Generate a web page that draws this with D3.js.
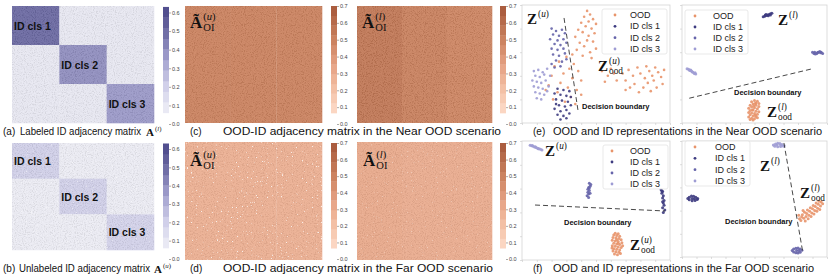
<!DOCTYPE html>
<html>
<head>
<meta charset="utf-8">
<script src="https://cdn.jsdelivr.net/npm/d3@7"></script>
<style>
  body { margin: 0; background: #fff; }
  text { font-family: "Liberation Sans", Arial, sans-serif; }
</style>
</head>
<body>
<svg id="fig" width="830" height="277"></svg>
<script>
// ---- data ----
const clsNames = ['ID cls 1', 'ID cls 2', 'ID cls 3'];
const legendNames = ['OOD', 'ID cls 1', 'ID cls 2', 'ID cls 3'];

// block means of the ID adjacency matrices (rows/cols = class blocks)
const adjLabeled = [[0.50, 0.09, 0.09], [0.09, 0.40, 0.09], [0.09, 0.09, 0.37]];
const adjUnlabeled = [[0.20, 0.07, 0.07], [0.07, 0.20, 0.07], [0.07, 0.07, 0.19]];

// OOD-ID matrices, mean value per ID-class column band
const oodNearU = [0.50, 0.50, 0.50];
const oodNearL = [0.55, 0.51, 0.49];
const oodFarU = [0.28, 0.28, 0.28];
const oodFarL = [0.31, 0.30, 0.30];

const purpleTicks = [0, 0.1, 0.2, 0.3, 0.4, 0.5, 0.6];
const orangeTicks = [0, 0.1, 0.2, 0.3, 0.4, 0.5, 0.6, 0.7];
const purpleExtent = [0.06, 0.63];
const orangeExtent = [0.065, 0.70];

// (e) near OOD, unlabeled representations
const nearU_ood = [[44,95],[46,92],[42,90],[48,88],[45,86],[40,85],[50,84],[43,82],[47,80],[38,79],[41,77],[49,76],[45,74],[36,73],[44,70],[48,69],[39,68],[42,65],[50,63],[37,62],[46,60],[34,58],[41,57],[47,55],
  [30,56],[25,52],[35,50],[22,48],[32,46],[38,44],[28,42],[20,40],[34,38],[40,36],[26,34],[31,30],[37,28],[18,32],[24,26],[33,22],[29,18],[36,16],[21,20],[40,24],[16,28],
  [54,44],[58,40],[62,42],[56,35],[64,36],[60,46],
  [68,42],[72,45],[75,40],[70,36],[78,47],[80,42],[83,38],[76,33],[86,44],[88,40],[90,47],[92,43],[85,34],[82,30],[89,36],[94,39],[96,45],[91,30],[87,27],[79,26],[73,30],[84,48],[95,33],[70,28]];
const nearU_c2 = [[20,80],[23,78],[27,79],[21,75],[25,74],[29,76],[19,71],[24,70],[28,71],[22,67],[26,66],[30,68],[20,63],[24,62],[28,63],[21,58],[25,57],[29,59],[23,53],[27,52],[20,50],[30,54],[26,48],[22,47]];
const nearU_c3 = [[8,44],[11,45],[14,43],[17,46],[9,40],[12,39],[15,41],[19,40],[7,36],[10,35],[13,34],[16,36],[8,31],[11,30],[14,29],[18,31],[9,26],[12,25],[15,24],[10,21],[13,20],[17,27]];
const nearU_c1 = [[24,29],[28,28],[32,27],[22,25],[26,24],[30,23],[33,22],[23,20],[27,19],[31,18],[25,15],[29,14],[33,15],[22,12],[26,10],[30,11],[24,7],[28,6],[32,8],[26,3],[30,4],[23,16]];
const nearU_boundary = [[28.4, 89], [37.8, 11]];

// near OOD, labeled representations
const nearL_c1 = [[56,90],[57,90.5],[58,91],[59,91.5],[60,92],[61,92.5],[62,93],[57.5,91.5],[59.5,90.8],[61,91.5],[58,92]];
const nearL_c2 = [[90,60],[91,59],[92,58.5],[93,59],[94,60],[95,60.5],[96,60],[97,59],[91.5,60],[93.5,59.8],[95.5,59.5]];
const nearL_c3 = [[3.5,46],[4.5,45.5],[5.5,44.5],[6.5,44],[7.5,43],[8.5,42],[9.5,41.5],[5,45],[7,43.5],[9,42.5],[6,45]];
const nearL_ood = [[50,19],[52,18.5],[48,18],[51,17],[53,16.5],[49,16],[47,15],[51,15],[53,14],[48,13.5],[50,13],[46,12.5],[52,12],[49,11],[47,10.5],[51,10],[53,9.5],[46,9],[48,8.5],[50,8],[52,7.5],[47,7],[49,6],[51,5.5],[46,5],[48,4],[50,3.5],[52,4.5],[47,3],[49,2.5],[50.5,16.5],[49.5,14.5],[48.5,11],[50.5,6.5]];
const nearL_boundary = [[5, 21], [90, 46]];

// (f) far OOD, unlabeled representations
const farU_c3 = [[5.5,96.5],[6.5,96],[7.5,95.6],[8.5,95],[9.5,94.5],[10.5,94],[11.5,93.5],[12.5,93],[13.5,92.5],[7,96.2],[9,95.2],[11,93.4]];
const farU_c2 = [[45.5,64.5],[46.5,63.5],[46,62],[45,61],[44.5,59.5],[45.5,58.5],[44.5,57],[45,55.5],[44,54],[45,52.5],[45.5,60.5],[46,56]];
const farU_c1 = [[94,59],[95,57.5],[94.5,56],[95.5,54],[95,52],[96,50],[95.5,48],[96,46],[95,44],[96.5,42],[95.5,40],[94.5,58],[95,49]];
const farU_ood = [[63,22.5],[65,22],[62,21],[64,20.5],[66,20],[61.5,19],[63.5,18.5],[65.5,18],[67,17],[61,16.5],[63,16],[65,15.5],[67.5,14.5],[62,14],[64,13.5],[66,13],[61,12],[63,11.5],[65,11],[67,10.5],[62,9.5],[64,9],[66,8.5],[61.5,7.5],[63.5,7],[65.5,6.5],[62.5,5],[64.5,4.5],[66.5,5.5],[68,12],[60.8,10],[64,17],[65,14]];
const farU_boundary = [[8.8, 46.2], [96.6, 41.2]];

// far OOD, labeled representations
const farL_c3 = [[63,96.5],[64.5,97.5],[66,98],[67.5,97.8],[69,97],[70.5,96],[64,95.5],[66,95],[68,95.2],[70,95.5],[65.5,96.5],[68,96.5]];
const farL_c1 = [[4,50.5],[5,51.5],[6.5,52.5],[8,52.3],[9.5,51.5],[10.8,50.5],[5,49.3],[7,48.5],[9,48.8],[10.5,49.5],[7,50.5],[8.5,50.2]];
const farL_c2 = [[76,5.5],[77,6.8],[78.5,7.6],[80,7.7],[81.5,7],[82.7,5.8],[77,4.3],[78.5,3.6],[80,3.5],[81.5,4.2],[79,5.6],[80.5,5.6]];
const farL_ood = [[81,33],[82.5,34.5],[84,33.5],[85.5,35],[83,36.5],[86,37.5],[87.5,36],[84.5,38.5],[88,39.5],[89.5,38],[86.5,40.5],[90,41.5],[91.5,40],[88.5,42.5],[92,43.5],[93.5,42],[90.5,44.5],[94,45.5],[95.5,44],[92.5,46.5],[96,47.5],[82,31.5],[85,31],[87,33],[89,35],[91,37],[93,39.5],[95,41],[80.5,36],[83.5,40],[94.5,48],[97,46]];
const farL_boundary = [[70.3, 98.3], [83.4, 3.4]];

// ---- styles ----
const serif = '"Liberation Serif", "DejaVu Serif", Times, serif';
const colOOD = '#e8946a', colC1 = '#3d3b80', colC2 = '#6664aa', colC3 = '#9e9cd4';
const purple = d3.scaleLinear()
  .domain([0.06, 0.2, 0.35, 0.5, 0.63])
  .range(['#efeff6', '#d2d1ea', '#a3a1cf', '#6c6aa3', '#4b488a']).clamp(true);
const orange = d3.scaleLinear()
  .domain([0.07, 0.2, 0.35, 0.5, 0.7])
  .range(['#fcdac8', '#f4c2a7', '#e6a284', '#cc8360', '#a5573a']).clamp(true);

const svg = d3.select('#fig');
svg.append('rect').attr('width', 830).attr('height', 277).attr('fill', '#fff');

const defs = svg.append('defs');
const noise = defs.append('filter').attr('id', 'noise')
  .attr('x', 0).attr('y', 0).attr('width', '100%').attr('height', '100%');
noise.append('feTurbulence').attr('type', 'fractalNoise')
  .attr('baseFrequency', 0.9).attr('numOctaves', 2).attr('seed', 4);
noise.append('feColorMatrix').attr('type', 'matrix')
  .attr('values', '3 0 0 0 -1  3 0 0 0 -1  3 0 0 0 -1  0 0 0 0 1');

// sparse white speckles
const sparkle = defs.append('filter').attr('id', 'sparkle')
  .attr('x', 0).attr('y', 0).attr('width', '100%').attr('height', '100%');
sparkle.append('feTurbulence').attr('type', 'fractalNoise')
  .attr('baseFrequency', 0.8).attr('numOctaves', 1).attr('seed', 9);
sparkle.append('feColorMatrix').attr('type', 'matrix')
  .attr('values', '0 0 0 0 1  0 0 0 0 1  0 0 0 0 1  14 0 0 0 -9.6');

function texture(x, y, w, h, op, speck) {
  svg.append('rect').attr('x', x).attr('y', y).attr('width', w).attr('height', h)
    .attr('filter', 'url(#noise)').attr('opacity', op);
  if (speck) {
    svg.append('rect').attr('x', x).attr('y', y).attr('width', w).attr('height', h)
      .attr('filter', 'url(#sparkle)').attr('opacity', speck);
  }
}

function mathLabel(x, y, base, sup, sub, fs) {
  const g = svg.append('g').attr('fill', '#111');
  const b = g.append('text').attr('x', x).attr('y', y)
    .style('font-family', serif).attr('font-weight', 'bold').attr('font-size', fs).text(base);
  const w = b.node().getComputedTextLength();
  const s = fs * 0.62;
  if (sup) {
    const t = g.append('text').attr('x', x + w + 1).attr('y', y - fs * 0.48)
      .style('font-family', serif).attr('font-size', s);
    t.append('tspan').text('(');
    t.append('tspan').attr('font-style', 'italic').text(sup);
    t.append('tspan').text(')');
  }
  if (sub) {
    g.append('text').attr('x', x + w + 1).attr('y', y + fs * 0.2)
      .style('font-family', serif).attr('font-size', s).text(sub);
  }
}

function adjMatrix(x0, y0, w, h, mat, speck) {
  const bx = d3.scaleBand().domain(d3.range(mat.length)).range([x0, x0 + w]);
  const by = d3.scaleBand().domain(d3.range(mat.length)).range([y0, y0 + h]);
  mat.forEach((row, i) => row.forEach((v, j) => {
    svg.append('rect').attr('x', bx(j)).attr('y', by(i))
      .attr('width', bx.bandwidth() + 0.3).attr('height', by.bandwidth() + 0.3)
      .attr('fill', purple(v));
  }));
  texture(x0, y0, w, h, 0.07, speck);
  clsNames.forEach((n, i) => {
    svg.append('text').attr('x', bx(i) + 2).attr('y', by(i) + by.bandwidth() / 2 + 4)
      .attr('font-size', 10.5).attr('font-weight', 'bold').attr('fill', '#111').text(n);
  });
}

function oodMatrix(x0, y0, w, h, bands, op, speck) {
  const bx = d3.scaleBand().domain(d3.range(bands.length)).range([x0, x0 + w]);
  bands.forEach((v, j) => {
    svg.append('rect').attr('x', bx(j)).attr('y', y0)
      .attr('width', bx.bandwidth() + 0.3).attr('height', h).attr('fill', orange(v));
  });
  texture(x0, y0, w, h, op, speck);
}

function colorbar(x, yZero, yTop, cmap, ext, ticks, n) {
  const top = ticks[ticks.length - 1];
  const y = d3.scaleLinear().domain([0, top]).range([yZero, yTop]);
  const step = (ext[1] - ext[0]) / n;
  d3.range(n).forEach(i => {
    const lo = ext[0] + i * step;
    svg.append('rect').attr('x', x).attr('y', y(lo + step)).attr('width', 6)
      .attr('height', y(lo) - y(lo + step) + 0.3).attr('fill', cmap(lo + step / 2));
  });
  const ax = svg.append('g').attr('transform', `translate(${x + 6},0)`)
    .call(d3.axisRight(y).tickValues(ticks).tickSize(2).tickPadding(1).tickFormat(d3.format('.1f')));
  ax.select('.domain').remove();
  ax.selectAll('line').attr('stroke', '#555').attr('stroke-width', 0.5);
  ax.selectAll('text').attr('font-size', 5.5).attr('fill', '#444');
}

function scatter(p) {
  const x = d3.scaleLinear().domain([0, 100]).range([p.x0, p.x1]);
  const y = d3.scaleLinear().domain([0, 100]).range([p.y1, p.y0]);
  const g = svg.append('g');
  g.append('rect').attr('x', p.x0).attr('y', p.y0).attr('width', p.x1 - p.x0)
    .attr('height', p.y1 - p.y0).attr('fill', 'none').attr('stroke', '#d4d4d4').attr('stroke-width', 0.8);
  const ay = g.append('g').attr('transform', `translate(${p.x0},0)`)
    .call(d3.axisLeft(y).ticks(7).tickSize(2).tickFormat(''));
  const axb = g.append('g').attr('transform', `translate(0,${p.y1})`)
    .call(d3.axisBottom(x).ticks(8).tickSize(2).tickFormat(''));
  [ay, axb].forEach(a => {
    a.select('.domain').remove();
    a.selectAll('line').attr('stroke', '#c8c8c8').attr('stroke-width', 0.6);
  });
  const sets = [[p.ood, colOOD], [p.c1, colC1], [p.c2, colC2], [p.c3, colC3]];
  sets.forEach(([pts, c]) => {
    g.selectAll(null).data(pts).enter().append('circle')
      .attr('cx', d => x(d[0])).attr('cy', d => y(d[1]))
      .attr('r', p.r).attr('fill', c).attr('opacity', 0.9);
  });
  g.append('line')
    .attr('x1', x(p.boundary[0][0])).attr('y1', y(p.boundary[0][1]))
    .attr('x2', x(p.boundary[1][0])).attr('y2', y(p.boundary[1][1]))
    .attr('stroke', '#333').attr('stroke-width', 0.9).attr('stroke-dasharray', '5,3');
  g.append('text').attr('x', p.db[0]).attr('y', p.db[1]).attr('font-size', 7.5)
    .attr('font-weight', 'bold').attr('fill', '#111').text('Decision boundary');
  // legend
  const L = p.leg;
  g.append('rect').attr('x', L.x).attr('y', L.y).attr('width', L.w).attr('height', L.h)
    .attr('rx', 2).attr('fill', '#fff').attr('fill-opacity', 0.85)
    .attr('stroke', '#e0e0e0').attr('stroke-width', 0.7);
  const ly = d3.scalePoint().domain(legendNames).range([L.y + 6, L.y + L.h - 5]);
  const lc = [colOOD, colC1, colC2, colC3];
  legendNames.forEach((n, i) => {
    g.append('circle').attr('cx', L.mx).attr('cy', ly(n)).attr('r', 1.4).attr('fill', lc[i]);
    g.append('text').attr('x', L.tx).attr('y', ly(n) + 3).attr('font-size', 9)
      .attr('fill', '#222').text(n);
  });
  mathLabel(p.z[0], p.z[1], 'Z', p.sup, null, 15);
  mathLabel(p.zo[0], p.zo[1], 'Z', p.sup, 'ood', 15);
}

function caption(x, y, tag, text, tx, len) {
  svg.append('text').attr('x', x).attr('y', y).attr('font-size', 10).attr('fill', '#111').text(tag);
  svg.append('text').attr('x', tx).attr('y', y).attr('font-size', 10).attr('fill', '#111')
    .attr('textLength', len).attr('lengthAdjust', 'spacingAndGlyphs').text(text);
}

// ---- (a) / (b) ID adjacency matrices ----
adjMatrix(12, 6, 142, 117, adjLabeled, 0);
colorbar(163, 124, 12.5, purple, purpleExtent, purpleTicks, 10);
adjMatrix(12, 143, 142, 107, adjUnlabeled, 0.5);
colorbar(163, 259, 149, purple, purpleExtent, purpleTicks, 10);

// ---- (c) / (d) OOD-ID matrices ----
oodMatrix(185, 6, 137, 117, oodNearU, 0.07, 0);
colorbar(331, 124, 6, orange, orangeExtent, orangeTicks, 11);
oodMatrix(357, 6, 135, 117, oodNearL, 0.08, 0);
colorbar(500, 124, 6, orange, orangeExtent, orangeTicks, 11);
oodMatrix(185, 142, 137, 118, oodFarU, 0.06, 0.8);
colorbar(331, 259, 143, orange, orangeExtent, orangeTicks, 11);
oodMatrix(357, 142, 135, 118, oodFarL, 0.06, 0.35);
colorbar(500, 259, 143, orange, orangeExtent, orangeTicks, 11);

mathLabel(190, 28, 'Ã', 'u', 'OI', 17);
mathLabel(362, 28, 'Ã', 'l', 'OI', 17);
mathLabel(190, 166, 'Ã', 'u', 'OI', 17);
mathLabel(363, 166, 'Ã', 'l', 'OI', 17);

// ---- (e) / (f) representations ----
scatter({ x0: 522, x1: 670, y0: 5, y1: 123, r: 1.3, ood: nearU_ood, c1: nearU_c1, c2: nearU_c2, c3: nearU_c3,
  boundary: nearU_boundary, db: [582, 109], sup: 'u', z: [527, 24], zo: [598, 71],
  leg: { x: 602, y: 9, w: 65, h: 45, mx: 615, tx: 630 } });
scatter({ x0: 682, x1: 827, y0: 5, y1: 123, r: 1.5, ood: nearL_ood, c1: nearL_c1, c2: nearL_c2, c3: nearL_c3,
  boundary: nearL_boundary, db: [734, 95], sup: 'l', z: [778, 25], zo: [767, 117],
  leg: { x: 685, y: 10, w: 63, h: 44, mx: 695, tx: 713 } });
scatter({ x0: 522, x1: 670, y0: 141, y1: 260, r: 1.5, ood: farU_ood, c1: farU_c1, c2: farU_c2, c3: farU_c3,
  boundary: farU_boundary, db: [564, 225], sup: 'u', z: [545, 156], zo: [630, 250],
  leg: { x: 603, y: 145, w: 65, h: 44, mx: 612, tx: 630 } });
scatter({ x0: 682, x1: 827, y0: 141, y1: 257, r: 1.5, ood: farL_ood, c1: farL_c1, c2: farL_c2, c3: farL_c3,
  boundary: farL_boundary, db: [725, 224], sup: 'l', z: [760, 171], zo: [800, 198],
  leg: { x: 685, y: 141, w: 65, h: 45, mx: 695, tx: 715 } });

// ---- captions ----
caption(3, 135, '(a)', 'Labeled ID adjacency matrix', 20, 121);
mathLabel(146, 136, 'A', 'l', null, 11);
caption(3, 272, '(b)', 'Unlabeled ID adjacency matrix', 19, 131);
mathLabel(154, 273, 'A', 'u', null, 11);
caption(190, 135, '(c)', 'OOD-ID adjacency matrix in the Near OOD scenario', 223, 278);
caption(190, 272, '(d)', 'OOD-ID adjacency matrix in the Far OOD scenario', 223, 270);
caption(533, 135, '(e)', 'OOD and ID representations in the Near OOD scenario', 553, 269);
caption(533, 272, '(f)', 'OOD and ID representations in the Far OOD scenario', 553, 261);
</script>
</body>
</html>
